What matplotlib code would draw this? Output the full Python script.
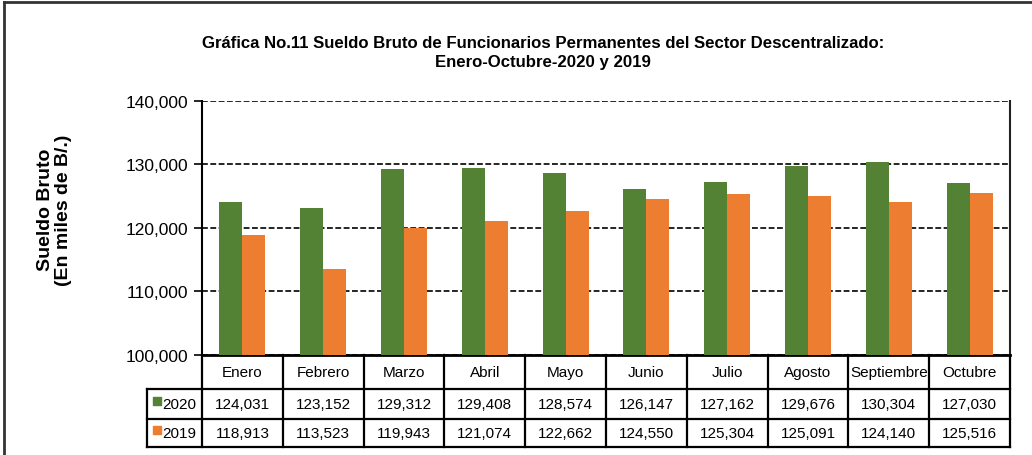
import numpy as np
import matplotlib.pyplot as plt
from matplotlib.lines import Line2D
from matplotlib.transforms import blended_transform_factory

# datos de la grafica
meses = ['Enero', 'Febrero', 'Marzo', 'Abril', 'Mayo', 'Junio', 'Julio',
         'Agosto', 'Septiembre', 'Octubre']
sueldo_2020 = [124031, 123152, 129312, 129408, 128574, 126147, 127162,
               129676, 130304, 127030]
sueldo_2019 = [118913, 113523, 119943, 121074, 122662, 124550, 125304,
               125091, 124140, 125516]
anios = ['2020', '2019']
marcas_y = [100000, 110000, 120000, 130000, 140000]

verde = '#548235'
naranja = '#ED7D31'

plt.rcParams['font.family'] = ['Liberation Sans', 'DejaVu Sans']

W, H = 1032, 456
fig = plt.figure(figsize=(W / 100, H / 100), dpi=100)

# ejes principales (posiciones en pixeles de la imagen)
izq, der, arriba, abajo = 202, 1010, 102, 355.7
ax = fig.add_axes([izq / W, 1 - abajo / H, (der - izq) / W, (abajo - arriba) / H])

x = np.arange(len(meses))
ancho = 0.285
ax.bar(x - ancho / 2, sueldo_2020, ancho, color=verde, zorder=3)
ax.bar(x + ancho / 2, sueldo_2019, ancho, color=naranja, zorder=3)

ax.set_xlim(-0.5, len(meses) - 0.5)
ax.set_ylim(marcas_y[0], marcas_y[-1])
ax.set_yticks(marcas_y)
ax.yaxis.set_major_formatter(lambda v, p: f'{v:,.0f}')
ax.tick_params(axis='y', labelsize=12.5, length=6, width=1.2, direction='out', pad=4)
ax.set_xticks([])
ax.grid(axis='y', color='black', linestyle=(0, (3.5, 1.5)), linewidth=1.2, zorder=1)
ax.set_axisbelow(True)

ax.spines['top'].set_visible(False)
ax.spines['left'].set_linewidth(1.5)
ax.spines['right'].set_linewidth(1.5)
ax.spines['right'].set_color('#222222')
ax.spines['bottom'].set_linewidth(2)

ax.set_ylabel('Sueldo Bruto\n(En miles de B/.)', fontsize=14, fontweight='bold',
              linespacing=1.05)
ax.yaxis.set_label_coords(-0.161, 0.575)

# tabla de datos debajo del grafico
tr = blended_transform_factory(ax.transData, ax.transAxes)
filas_y = [0, -0.135, -0.253, -0.364]
x_etiq = -0.5 - (izq - 147) / ((der - izq) / len(meses))
x_fin = len(meses) - 0.5

def linea(xs, ys):
    ax.add_line(Line2D(xs, ys, transform=tr, color='black', lw=1.6, clip_on=False))

for yy in filas_y[1:]:
    linea([x_etiq, x_fin], [yy, yy])
linea([x_etiq, x_etiq], [filas_y[1], filas_y[3]])
for k in range(len(meses) + 1):
    linea([k - 0.5, k - 0.5], [filas_y[0], filas_y[3]])

for i, mes in enumerate(meses):
    ax.text(i, (filas_y[0] + filas_y[1]) / 2, mes, transform=tr, ha='center',
            va='center', fontsize=11, clip_on=False)
    ax.text(i, (filas_y[1] + filas_y[2]) / 2, f'{sueldo_2020[i]:,}', transform=tr,
            ha='center', va='center', fontsize=11, clip_on=False)
    ax.text(i, (filas_y[2] + filas_y[3]) / 2, f'{sueldo_2019[i]:,}', transform=tr,
            ha='center', va='center', fontsize=11, clip_on=False)

for j, (anio, color) in enumerate(zip(anios, [verde, naranja])):
    yc = (filas_y[j + 1] + filas_y[j + 2]) / 2
    ax.plot([x_etiq + 0.12], [yc + 0.012], marker='s', markersize=6, color=color,
            transform=tr, clip_on=False, linestyle='none')
    ax.text(x_etiq + 0.19, yc, anio, transform=tr, ha='left', va='center',
            fontsize=11, clip_on=False)

# titulo
fig.text(543 / W, 1 - 43 / H,
         'Gráfica No.11 Sueldo Bruto de Funcionarios Permanentes del Sector Descentralizado:',
         ha='center', va='center', fontsize=12.1, fontweight='bold')
fig.text(543 / W, 1 - 62 / H, 'Enero-Octubre-2020 y 2019',
         ha='center', va='center', fontsize=12.1, fontweight='bold')

# borde exterior
fig.add_artist(Line2D([4 / W, 1], [1 - 3 / H, 1 - 3 / H], transform=fig.transFigure,
                      color='#333333', lw=2))
fig.add_artist(Line2D([4 / W, 4 / W], [0, 1 - 3 / H], transform=fig.transFigure,
                      color='#333333', lw=2))

fig.savefig('out.png', dpi=100)
